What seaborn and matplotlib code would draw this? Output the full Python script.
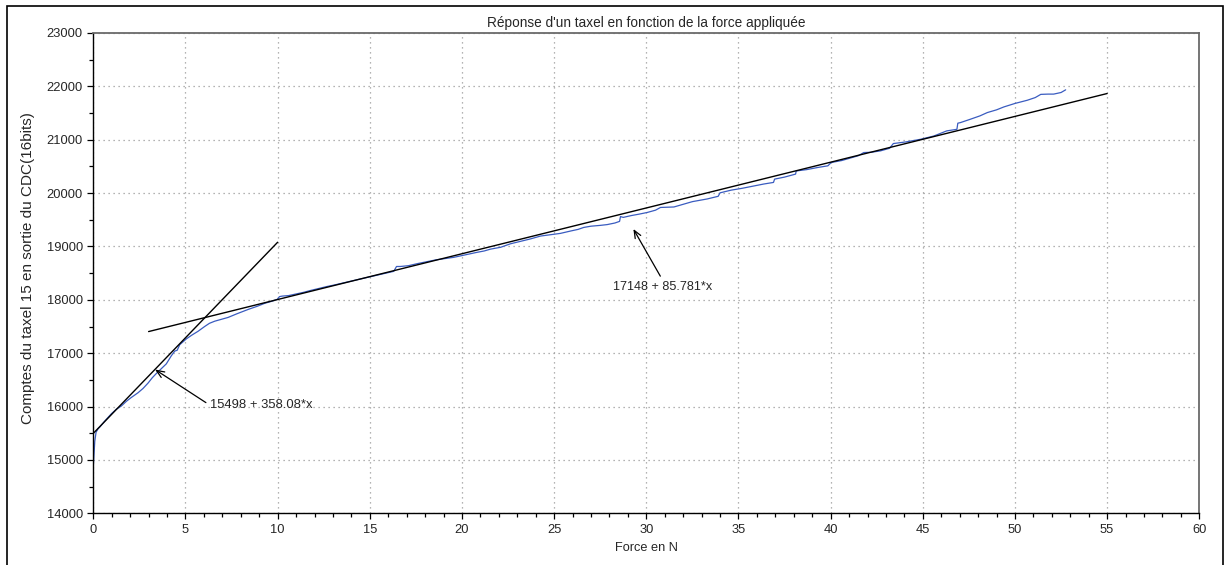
import matplotlib
matplotlib.use("Agg")
import matplotlib.pyplot as plt
from matplotlib.patches import Rectangle
from matplotlib.ticker import MultipleLocator
import seaborn as sns
import pandas as pd
import numpy as np

# ---- data ----
force = [0.00, 0.03, 0.08, 0.15, 0.26, 0.35, 0.6, 0.98, 1.25, 1.52, 1.8, 2.06, 2.43, 2.7, 2.97, 3.2,
         3.42, 3.6, 3.96, 4.23, 4.42, 4.55, 4.69, 5.05, 5.35, 5.68, 6.04, 6.3, 6.59, 7.0, 7.31, 7.8,
         8.4, 8.9, 9.3, 9.7, 9.98, 10.1, 10.25, 10.6, 11.0, 11.4, 11.78, 12.2, 12.68, 13.1, 13.6,
         14.0, 14.49, 15.0, 15.49, 16.0, 16.3, 16.45, 16.66, 17.1, 17.6, 18.1, 18.6, 19.1, 19.55,
         20.0, 20.4, 20.8, 21.2, 21.55, 22.1, 22.63, 23.1, 23.7, 24.26, 24.8, 25.34, 25.9, 26.3,
         26.61, 27.0, 27.5, 27.88, 28.3, 28.55, 28.6, 28.75, 29.2, 29.6, 30.05, 30.5, 30.77, 31.1,
         31.5, 32.0, 32.5, 33.3, 33.9, 34.0, 34.6, 35.2, 35.8, 36.37, 36.9, 36.96, 37.5, 38.1,
         38.13, 38.7, 39.3, 39.85, 40.03, 40.6, 41.1, 41.5, 41.8, 42.2, 42.7, 43.2, 43.4, 44.1,
         44.9, 45.6, 46.3, 46.85, 46.9, 47.04, 47.58, 48.1, 48.5, 49.0, 49.4, 50.0, 50.67, 51.1,
         51.4, 51.8, 52.1, 52.5, 52.75]
counts = [14880, 15050, 15350, 15520, 15585, 15615, 15720, 15865, 15950, 16010, 16100, 16170, 16260,
          16340, 16440, 16540, 16620, 16680, 16800, 16950, 17040, 17055, 17160, 17269, 17340, 17410,
          17500, 17560, 17600, 17640, 17670, 17740, 17820, 17880, 17935, 17975, 18010, 18060, 18070,
          18080, 18110, 18140, 18175, 18210, 18250, 18280, 18320, 18350, 18391, 18430, 18472, 18510,
          18534, 18625, 18625, 18640, 18680, 18715, 18750, 18775, 18796, 18830, 18860, 18889, 18915,
          18950, 18985, 19050, 19090, 19140, 19195, 19220, 19245, 19290, 19320, 19357, 19380, 19395,
          19410, 19440, 19470, 19560, 19545, 19580, 19605, 19637, 19680, 19731, 19735, 19740, 19790,
          19840, 19890, 19940, 20005, 20055, 20090, 20130, 20170, 20200, 20262, 20300, 20356, 20415,
          20440, 20480, 20511, 20573, 20610, 20660, 20700, 20760, 20765, 20791, 20840, 20928, 20960,
          21010, 21070, 21166, 21195, 21310, 21321, 21384, 21447, 21509, 21560, 21615, 21680, 21740,
          21790, 21850, 21855, 21855, 21885, 21935]

fit1_x = [0, 10]
fit1_intercept, fit1_slope = 15498, 358.08
fit2_x = [3, 55]
fit2_intercept, fit2_slope = 17148, 85.781

label1 = "15498 + 358.08*x"
label2 = "17148 + 85.781*x"
title = "Réponse d'un taxel en fonction de la force appliquée"
xlabel = "Force en N"
ylabel = "Comptes du taxel 15 en sortie du CDC(16bits)"

# ---- plotting ----
sns.set_style("white")
plt.rcParams['font.family'] = ['Liberation Sans', 'DejaVu Sans']

fig = plt.figure(figsize=(12.27, 5.65), dpi=100)
ax = fig.add_axes([93.3 / 1227, 1 - 513.3 / 565, (1199.3 - 93.3) / 1227, (513.3 - 33) / 565])

df = pd.DataFrame({"force": force, "counts": counts})
sns.lineplot(data=df, x="force", y="counts", ax=ax, color="#3a5cc0", lw=0.9,
             sort=False, estimator=None)

f1 = pd.DataFrame({"x": fit1_x, "y": [fit1_intercept + fit1_slope * v for v in fit1_x]})
f2 = pd.DataFrame({"x": fit2_x, "y": [fit2_intercept + fit2_slope * v for v in fit2_x]})
sns.lineplot(data=f1, x="x", y="y", ax=ax, color="black", lw=1.0, sort=False, estimator=None)
sns.lineplot(data=f2, x="x", y="y", ax=ax, color="black", lw=1.0, sort=False, estimator=None)

ax.set_xlim(0, 60)
ax.set_ylim(14000, 23000)
ax.xaxis.set_major_locator(MultipleLocator(5))
ax.xaxis.set_minor_locator(MultipleLocator(1))
ax.yaxis.set_major_locator(MultipleLocator(1000))
ax.yaxis.set_minor_locator(MultipleLocator(500))
ax.tick_params(axis="both", which="major", direction="out", length=4.5, width=0.9,
               color="black", labelsize=9.3, pad=3, bottom=True, left=True)
ax.tick_params(axis="both", which="minor", direction="out", length=3, width=0.9,
               color="black", bottom=True, left=True)
ax.grid(True, which="major", color="#9a9a9a", linestyle=(0, (1, 3)), linewidth=0.9)

for side in ["left", "bottom"]:
    ax.spines[side].set_color("black")
    ax.spines[side].set_linewidth(1.0)
for side in ["top", "right"]:
    ax.spines[side].set_color("#6a6a6a")
    ax.spines[side].set_linewidth(1.3)

ax.set_title(title, fontsize=9.8, pad=4)
ax.set_xlabel(xlabel, fontsize=9.2)
ax.set_ylabel(ylabel, fontsize=11)
ax.xaxis.set_label_coords(0.5, -29 / 480.3, transform=ax.transAxes)
ax.yaxis.set_label_coords(-(93.3 - 35) / 1106, 0.51, transform=ax.transAxes)

arrow = dict(arrowstyle="->,head_length=0.6,head_width=0.25", color="black", lw=0.9,
             shrinkA=1, shrinkB=0)
ax.annotate(label1, xy=(3.35, 16694), xytext=(6.35, 16020), textcoords="data",
            ha="left", va="center", fontsize=9.4,
            arrowprops=dict(arrow, relpos=(0.0, 0.5)))
ax.annotate(label2, xy=(29.3, 19327), xytext=(30.9, 18247), textcoords="data",
            ha="center", va="center", fontsize=9.1,
            arrowprops=dict(arrow, relpos=(0.5, 1.0)))

fig.patches.append(Rectangle((7 / 1227, -0.02), (1223 - 7) / 1227, 0.02 + (565 - 6) / 565,
                             transform=fig.transFigure, fill=False, lw=1.2, ec="black"))

fig.savefig("out.png", dpi=100)
